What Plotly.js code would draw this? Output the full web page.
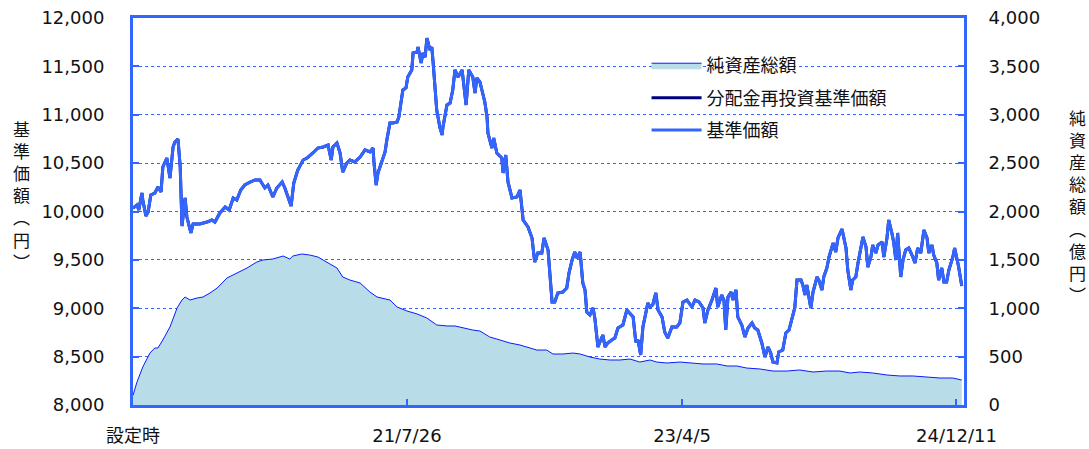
<!DOCTYPE html>
<html>
<head>
<meta charset="utf-8">
<script src="https://cdn.plot.ly/plotly-3.0.1.min.js"></script>
<style>
html,body{margin:0;padding:0;background:#fff;}
#chart{width:1089px;height:449px;}
</style>
</head>
<body>
<div id="chart"></div>
<script>
// Days since fund inception (設定時) for each reading of the price line
const priceDays = [0,9,13,20,22,29,34,40,49,56,63,67,76,83,90,94,101,106,110,117,121,130,135,150,166,177,184,195,207,216,225,233,242,251,263,274,285,296,303,314,323,335,341,346,355,361,370,382,391,404,415,427,438,445,449,458,465,471,480,487,498,510,521,532,539,541,546,550,559,566,570,577,584,593,597,602,606,613,617,626,629,638,640,647,651,656,660,667,671,674,678,682,689,694,696,705,712,718,723,730,739,743,748,754,763,768,772,779,790,795,797,806,810,817,828,831,837,842,851,862,869,876,887,896,902,909,918,923,932,941,947,954,965,974,979,986,992,997,1004,1010,1015,1019,1026,1033,1037,1044,1055,1060,1066,1075,1082,1089,1100,1109,1116,1123,1129,1134,1140,1145,1152,1156,1161,1167,1174,1179,1188,1194,1201,1210,1221,1228,1235,1244,1255,1262,1271,1280,1284,1291,1300,1309,1313,1322,1327,1331,1336,1343,1347,1354,1358,1367,1374,1381,1390,1396,1403,1412,1419,1426,1432,1437,1446,1450,1459,1466,1473,1482,1486,1491,1500,1504,1509,1513,1522,1527,1536,1540,1547,1551,1558,1563,1572,1578,1583,1592,1594,1601,1605,1612,1616,1623,1628,1634,1639,1646,1650,1657,1661,1668,1673,1682,1686,1693,1697,1704,1708,1713,1717,1724,1729,1735,1742,1751,1756,1762,1769,1776,1783,1787,1794,1798,1805,1809,1816,1821,1827,1832,1841,1845,1850,1854,1861];
// 基準価額 (円)
const basePrice = [10036,10067,10016,10191,10119,9954,9995,10171,10191,10253,10202,10460,10553,10346,10667,10718,10749,10460,9850,10140,9943,9778,9871,9871,9891,9912,9891,9985,10047,10016,10140,10119,10222,10274,10305,10326,10326,10243,10274,10150,10243,10305,10243,10171,10057,10295,10429,10532,10553,10605,10656,10667,10687,10532,10667,10708,10605,10408,10501,10532,10512,10563,10636,10615,10656,10512,10274,10398,10532,10615,10739,10915,10915,10925,10977,11121,11256,11277,11390,11463,11638,11649,11700,11535,11638,11597,11793,11669,11700,11535,11308,11049,10873,10791,10873,11101,11121,11256,11463,11390,11463,11287,11101,11463,11390,11225,11380,11339,11132,10977,10811,10656,10760,10605,10553,10398,10584,10305,10140,10150,10222,9912,9840,9726,9478,9571,9571,9726,9602,9065,9065,9158,9168,9209,9364,9499,9581,9519,9581,9261,9189,8961,8930,9003,8899,8599,8724,8599,8641,8672,8693,8796,8827,8982,8951,8910,8651,8672,8517,8806,8961,9054,9013,9034,9158,8982,8910,8755,8693,8806,8806,8848,9065,9085,9013,9085,9065,9003,8848,8982,9085,9209,9013,9137,9085,8775,9116,9168,9085,9189,8910,8827,8703,8796,8848,8796,8775,8641,8496,8599,8537,8444,8434,8548,8568,8744,8775,8930,9003,9292,9292,9240,9137,9240,9003,9168,9323,9292,9189,9323,9416,9530,9674,9581,9726,9819,9778,9623,9395,9189,9292,9323,9468,9602,9736,9633,9426,9530,9654,9571,9654,9685,9530,9726,9912,9778,9685,9499,9778,9323,9499,9602,9623,9530,9468,9623,9571,9809,9726,9571,9654,9550,9468,9292,9416,9271,9271,9395,9530,9623,9530,9426,9230];
// 分配金再投資基準価額 (円) – no distributions paid, so it coincides with 基準価額
const reinvestedPrice = [10036,10067,10016,10191,10119,9954,9995,10171,10191,10253,10202,10460,10553,10346,10667,10718,10749,10460,9850,10140,9943,9778,9871,9871,9891,9912,9891,9985,10047,10016,10140,10119,10222,10274,10305,10326,10326,10243,10274,10150,10243,10305,10243,10171,10057,10295,10429,10532,10553,10605,10656,10667,10687,10532,10667,10708,10605,10408,10501,10532,10512,10563,10636,10615,10656,10512,10274,10398,10532,10615,10739,10915,10915,10925,10977,11121,11256,11277,11390,11463,11638,11649,11700,11535,11638,11597,11793,11669,11700,11535,11308,11049,10873,10791,10873,11101,11121,11256,11463,11390,11463,11287,11101,11463,11390,11225,11380,11339,11132,10977,10811,10656,10760,10605,10553,10398,10584,10305,10140,10150,10222,9912,9840,9726,9478,9571,9571,9726,9602,9065,9065,9158,9168,9209,9364,9499,9581,9519,9581,9261,9189,8961,8930,9003,8899,8599,8724,8599,8641,8672,8693,8796,8827,8982,8951,8910,8651,8672,8517,8806,8961,9054,9013,9034,9158,8982,8910,8755,8693,8806,8806,8848,9065,9085,9013,9085,9065,9003,8848,8982,9085,9209,9013,9137,9085,8775,9116,9168,9085,9189,8910,8827,8703,8796,8848,8796,8775,8641,8496,8599,8537,8444,8434,8548,8568,8744,8775,8930,9003,9292,9292,9240,9137,9240,9003,9168,9323,9292,9189,9323,9416,9530,9674,9581,9726,9819,9778,9623,9395,9189,9292,9323,9468,9602,9736,9633,9426,9530,9654,9571,9654,9685,9530,9726,9912,9778,9685,9499,9778,9323,9499,9602,9623,9530,9468,9623,9571,9809,9726,9571,9654,9550,9468,9292,9416,9271,9271,9395,9530,9623,9530,9426,9230];
// 純資産総額 (億円)
const navDays = [0,9,22,38,49,56,67,83,99,110,117,128,144,157,173,189,211,233,256,278,292,314,337,352,359,379,397,415,436,458,471,487,510,532,548,577,593,615,638,660,682,705,723,741,763,779,801,824,846,869,891,907,929,943,965,988,1004,1026,1048,1071,1093,1116,1138,1161,1176,1199,1228,1250,1280,1311,1334,1356,1378,1408,1437,1468,1497,1527,1558,1587,1610,1632,1661,1693,1722,1751,1783,1812,1841,1861];
const netAssets = [100,238,393,537,589,589,672,806,1003,1085,1116,1085,1106,1116,1158,1209,1313,1364,1416,1478,1499,1509,1540,1509,1540,1561,1550,1530,1478,1416,1323,1292,1261,1168,1116,1085,1013,972,941,899,827,817,817,796,775,765,703,672,641,620,589,568,568,527,527,537,527,496,475,465,465,475,444,465,444,434,444,434,424,424,403,403,382,372,351,351,362,341,351,351,331,341,331,310,300,300,289,279,279,258];
// x-axis ticks
const xTickDays = [0,615,1233,1849];
const xTickLabels = ['設定時','21/7/26','23/4/5','24/12/11'];
const leftTicks = [8000,8500,9000,9500,10000,10500,11000,11500,12000];
const rightTicks = [0,500,1000,1500,2000,2500,3000,3500,4000];

const BLUE = '#3366ff';
const FONT = 'DejaVu Sans, "Noto Sans CJK JP", sans-serif';

const traces = [
  {x: navDays, y: netAssets, name: '純資産総額', type: 'scatter', mode: 'lines',
   yaxis: 'y', fill: 'tozeroy', fillcolor: '#b8dde8',
   line: {color: '#0a1cff', width: 1}, legendgroup: 'a'},
  {x: priceDays, y: reinvestedPrice, name: '分配金再投資基準価額', type: 'scatter', mode: 'lines',
   yaxis: 'y2', line: {color: '#000080', width: 3}, legendgroup: 'b'},
  {x: priceDays, y: basePrice, name: '基準価額', type: 'scatter', mode: 'lines',
   yaxis: 'y2', line: {color: BLUE, width: 3}, legendgroup: 'c'}
];

const axisCommon = {
  showline: true, linecolor: BLUE, linewidth: 3, zeroline: false,
  ticks: 'inside', ticklen: 6, tickwidth: 2, tickcolor: BLUE,
  tickfont: {family: FONT, size: 18, color: '#111'}
};

const layout = {
  width: 1089, height: 449,
  margin: {l: 133, r: 125, t: 18, b: 44, pad: 0},
  paper_bgcolor: '#fff', plot_bgcolor: '#fff',
  font: {family: FONT, color: '#111'},
  showlegend: true,
  legend: {x: 0.618, y: 0.925, xanchor: 'left', yanchor: 'top',
           bgcolor: 'rgba(0,0,0,0)', font: {family: FONT, size: 18, color: '#111'},
           itemwidth: 50, traceorder: 'grouped', tracegroupgap: 6},
  xaxis: Object.assign({}, axisCommon, {
    range: [0, 1866], mirror: true, showgrid: false,
    tickmode: 'array', tickvals: xTickDays, ticktext: xTickLabels,
    ticklabelstandoff: 12
  }),
  yaxis: Object.assign({}, axisCommon, {
    side: 'right', range: [0, 4000], tickmode: 'array', tickvals: rightTicks,
    tickformat: ',d', showgrid: true, gridcolor: BLUE, griddash: 'dot', gridwidth: 1,
    ticklabelstandoff: 18
  }),
  yaxis2: Object.assign({}, axisCommon, {
    side: 'left', overlaying: 'y', range: [8000, 12000], tickmode: 'array', tickvals: leftTicks,
    tickformat: ',d', showgrid: false, ticklabelstandoff: 22
  }),
  annotations: [
    {text: '基<br>準<br>価<br>額<br>︵<br>円<br>︶', xref: 'paper', yref: 'paper',
     x: -0.1336, y: 0.54, xanchor: 'center', yanchor: 'middle', showarrow: false,
     font: {family: FONT, size: 17, color: '#111'}},
    {text: '純<br>資<br>産<br>総<br>額<br>︵<br>億<br>円<br>︶', xref: 'paper', yref: 'paper',
     x: 1.137, y: 0.51, xanchor: 'center', yanchor: 'middle', showarrow: false,
     font: {family: FONT, size: 17, color: '#111'}}
  ]
};

Plotly.newPlot('chart', traces, layout, {displayModeBar: false, staticPlot: true});
</script>
</body>
</html>
